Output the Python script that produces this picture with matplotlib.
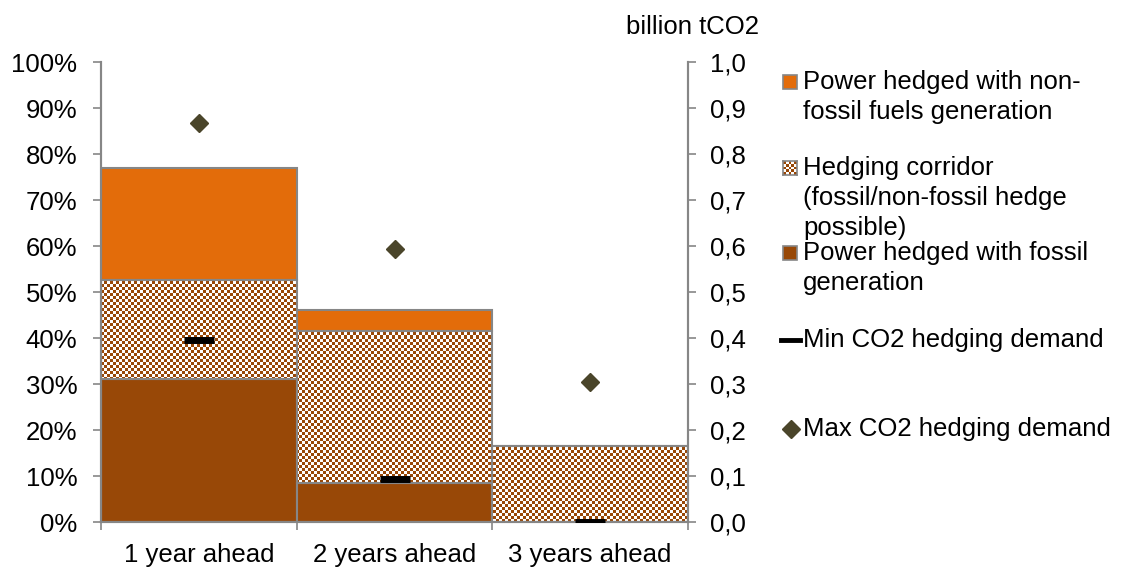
import numpy as np
import matplotlib.pyplot as plt
from matplotlib.patches import Rectangle
from matplotlib.lines import Line2D
from matplotlib.colors import ListedColormap

plt.rcParams['font.family'] = ['Liberation Sans', 'DejaVu Sans']

categories = ['1 year ahead', '2 years ahead', '3 years ahead']
fossil = [31.0, 8.5, 0.0]
corridor = [21.7, 33.0, 16.5]
non_fossil = [24.3, 4.5, 0.0]
min_demand = [0.395, 0.093, 0.0]
max_demand = [0.868, 0.594, 0.304]

c_orange = '#E36C0A'
c_brown = '#984807'
c_edge = '#868686'
c_diamond = '#4A452A'
fs = 18.5

W, H = 1123, 567
fig = plt.figure(figsize=(W / 100, H / 100), dpi=100)
ax = fig.add_axes([101 / W, 45 / H, 587 / W, 460 / H])
ax2 = ax.twinx()

x = np.arange(len(categories))
b1 = np.array(fossil)
b2 = b1 + np.array(corridor)

checker_cmap = ListedColormap([c_brown, 'white'])


def checker(nx, ny):
    return (np.add.outer(np.arange(ny), np.arange(nx)) % 2).astype(float)


ax.bar(x, fossil, width=1.0, color=c_brown, edgecolor=c_edge, linewidth=1.5, zorder=2)
corr = ax.bar(x, corridor, bottom=b1, width=1.0, color='none', edgecolor=c_edge,
              linewidth=1.5, zorder=3)
ax.bar(x, non_fossil, bottom=b2, width=1.0, color=c_orange, edgecolor=c_edge, linewidth=1.5, zorder=2)

ax.set_xlim(-0.5, 2.5)
ax.set_ylim(0, 100)

# checkerboard texture for the hedging corridor, clipped to each bar
for p in corr.patches:
    im = ax.imshow(checker(196, 153), cmap=checker_cmap, interpolation='nearest',
                   extent=(-0.5, 2.5, 0, 100), aspect='auto', zorder=2.5)
    im.set_clip_path(p)

ax.set_yticks(np.arange(0, 101, 10))
ax.set_yticklabels([f'{v}%' for v in range(0, 101, 10)], fontsize=fs)
ax.set_xticks(x)
ax.set_xticklabels(categories, fontsize=fs)
ax.tick_params(axis='x', length=0, pad=15)
ax.set_xticks([-0.5, 0.5, 1.5, 2.5], minor=True)
ax.tick_params(axis='x', which='minor', length=6, color=c_edge, width=1.2)
ax.tick_params(axis='y', length=6, color=c_edge, width=1.2, pad=11)

ax2.set_ylim(0, 1.0)
ax2.set_yticks(np.arange(0, 1.01, 0.1))
ax2.set_yticklabels([f'{v:.1f}'.replace('.', ',') for v in np.arange(0, 1.01, 0.1)], fontsize=fs)
ax2.tick_params(axis='y', length=6, color=c_edge, width=1.2, pad=10)

ax2.plot(x, min_demand, linestyle='none', marker='_', markersize=22, mew=5,
         color='black', zorder=5)
ax2.plot(x, max_demand, linestyle='none', marker='D', markersize=9,
         color=c_diamond, zorder=5)

for a in (ax, ax2):
    a.spines['top'].set_visible(False)
    for s in ('left', 'right', 'bottom'):
        a.spines[s].set_color(c_edge)
        a.spines[s].set_linewidth(1.5)

fig.text(693 / W, 1 - 27 / H, 'billion tCO2', ha='center', va='center', fontsize=fs)


def fy(py):
    return 1 - py / H


# legend drawn by hand to mimic the Excel layout
tx = 803 / W
entries = [
    (82, ['Power hedged with non-', 'fossil fuels generation'], 'orange'),
    (168, ['Hedging corridor', '(fossil/non-fossil hedge', 'possible)'], 'corridor'),
    (253, ['Power hedged with fossil', 'generation'], 'brown'),
    (340, ['Min CO2 hedging demand'], 'min'),
    (429, ['Max CO2 hedging demand'], 'max'),
]
for py, lines, kind in entries:
    for i, line in enumerate(lines):
        fig.text(tx, fy(py + 30 * i), line, ha='left', va='center', fontsize=fs)
    if kind in ('orange', 'brown'):
        w, h = 14 / W, 14 / H
        fc = c_orange if kind == 'orange' else c_brown
        fig.patches.append(Rectangle((783 / W, fy(py) - h / 2), w, h,
                                     transform=fig.transFigure, facecolor=fc,
                                     edgecolor=c_edge, linewidth=1.2))
    elif kind == 'corridor':
        kax = fig.add_axes([783 / W, fy(py) - 7 / H, 14 / W, 14 / H])
        kax.imshow(checker(5, 5), cmap=checker_cmap, interpolation='nearest',
                   aspect='auto')
        kax.set_xticks([])
        kax.set_yticks([])
        for s in kax.spines.values():
            s.set_color(c_edge)
            s.set_linewidth(1.2)
    elif kind == 'min':
        fig.add_artist(Line2D([781 / W, 800 / W], [fy(py), fy(py)],
                              color='black', linewidth=3.5, transform=fig.transFigure))
    else:
        fig.add_artist(Line2D([791 / W], [fy(py)], marker='D', markersize=9,
                              color=c_diamond, linestyle='none', transform=fig.transFigure))

fig.savefig('out.png', dpi=100)
